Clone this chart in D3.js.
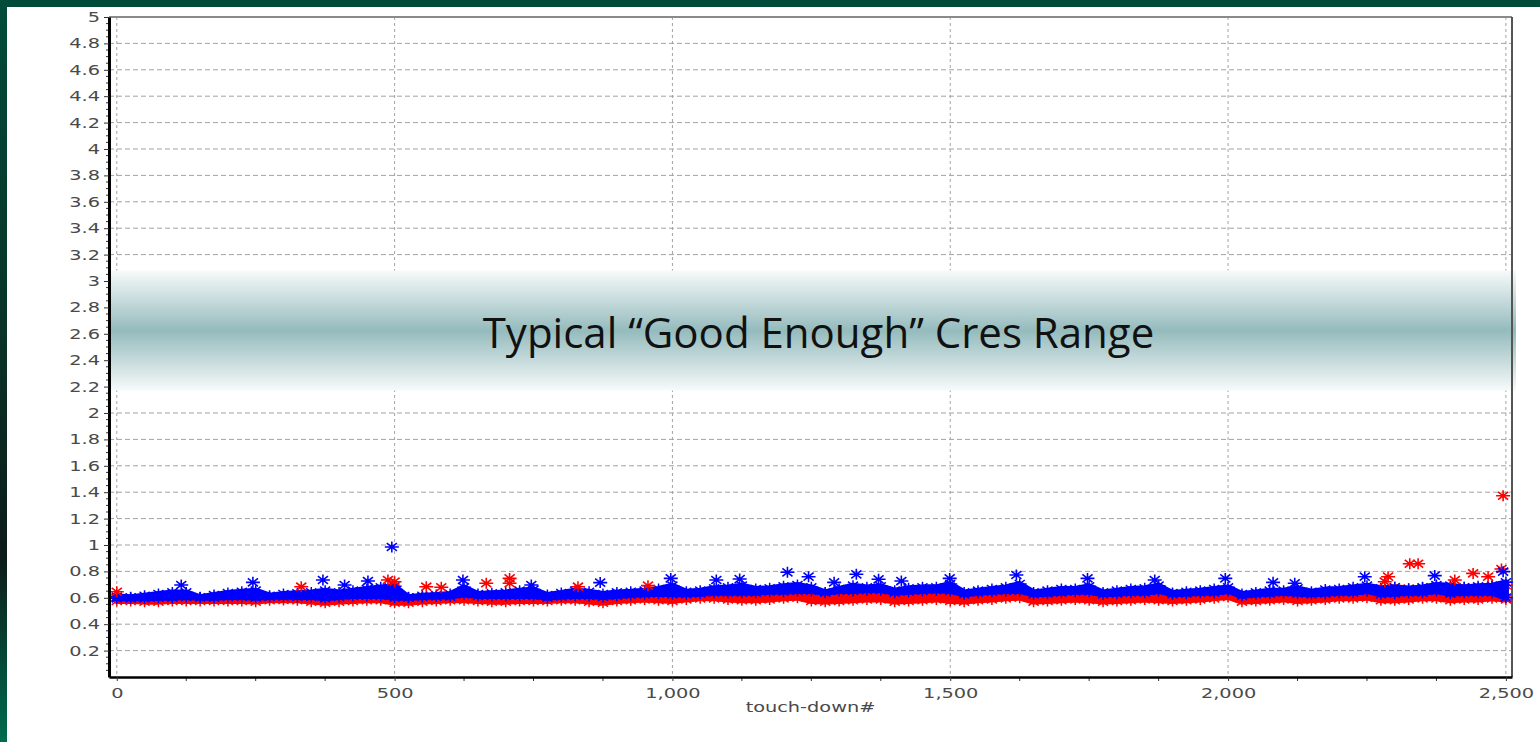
<!DOCTYPE html>
<html>
<head>
<meta charset="utf-8">
<script src="https://d3js.org/d3.v7.min.js"></script>
<style>
  body { margin: 0; overflow: hidden; background: #03402f; }
  .tick-label { font-family: "DejaVu Sans", sans-serif; font-size: 14px; fill: #4a4a4a; }
</style>
</head>
<body>
<div class="chart"></div>
<script>
// Cres per touch-down, two sites (red / blue)

// touch-down sampling step for the envelope arrays below (0, 25, 50 ... 2500)
var tdStep = 25;

// upper / lower edge of the blue cloud
var blueHi = [0.609,0.604,0.616,0.629,0.641,0.641,0.604,0.621,0.636,0.646,0.654,0.616,0.629,0.634,0.641,0.654,0.641,0.654,0.667,0.679,0.687,
  0.604,0.616,0.621,0.629,0.679,0.629,0.634,0.641,0.654,0.662,0.621,0.636,0.654,0.646,0.629,0.641,0.646,0.654,0.667,0.692,
  0.646,0.654,0.672,0.679,0.692,0.667,0.672,0.687,0.697,0.679,0.641,0.667,0.692,0.679,0.687,0.654,0.672,0.679,0.679,0.705,
  0.641,0.654,0.667,0.679,0.705,0.641,0.654,0.667,0.667,0.687,0.641,0.654,0.667,0.672,0.692,0.636,0.646,0.654,0.667,0.679,
  0.629,0.641,0.654,0.654,0.672,0.646,0.662,0.667,0.679,0.692,0.672,0.679,0.667,0.679,0.697,0.692,0.679,0.687,0.692,0.717];
var blueLo = [0.596,0.596,0.596,0.601,0.601,0.606,0.601,0.601,0.606,0.606,0.601,0.606,0.609,0.606,0.606,0.596,0.606,0.614,0.614,0.614,0.601,
  0.601,0.606,0.609,0.609,0.626,0.614,0.614,0.614,0.614,0.614,0.601,0.609,0.614,0.614,0.606,0.614,0.621,0.626,0.631,0.626,
  0.626,0.631,0.639,0.639,0.639,0.639,0.646,0.646,0.652,0.652,0.639,0.652,0.652,0.657,0.657,0.639,0.646,0.652,0.657,0.652,
  0.626,0.639,0.646,0.652,0.652,0.626,0.631,0.639,0.646,0.646,0.626,0.631,0.639,0.639,0.652,0.626,0.631,0.639,0.639,0.652,
  0.614,0.626,0.631,0.639,0.631,0.626,0.631,0.639,0.639,0.652,0.626,0.631,0.639,0.639,0.652,0.631,0.639,0.639,0.639,0.601];

// upper / lower edge of the red cloud
var redHi = [0.600,0.600,0.600,0.605,0.605,0.610,0.600,0.605,0.610,0.610,0.610,0.600,0.605,0.610,0.610,0.610,0.610,0.615,0.620,0.625,0.630,
  0.600,0.605,0.605,0.610,0.620,0.605,0.610,0.615,0.620,0.620,0.600,0.605,0.610,0.610,0.605,0.610,0.615,0.620,0.625,0.625,
  0.620,0.625,0.630,0.630,0.635,0.625,0.635,0.640,0.640,0.640,0.625,0.635,0.640,0.645,0.645,0.630,0.635,0.640,0.645,0.645,
  0.615,0.625,0.635,0.640,0.645,0.615,0.625,0.630,0.635,0.640,0.615,0.625,0.630,0.635,0.640,0.615,0.625,0.630,0.635,0.645,
  0.610,0.620,0.625,0.630,0.630,0.625,0.635,0.645,0.660,0.670,0.665,0.680,0.670,0.675,0.685,0.675,0.680,0.675,0.685,0.695];
var redLo = [0.576,0.576,0.571,0.571,0.576,0.576,0.576,0.576,0.576,0.576,0.571,0.581,0.583,0.581,0.571,0.563,0.571,0.576,0.581,0.581,0.563,
  0.563,0.571,0.576,0.581,0.581,0.576,0.571,0.571,0.576,0.576,0.576,0.581,0.581,0.571,0.563,0.576,0.581,0.588,0.581,0.576,
  0.588,0.596,0.596,0.588,0.581,0.581,0.588,0.596,0.601,0.576,0.571,0.576,0.581,0.588,0.588,0.571,0.576,0.581,0.588,0.576,
  0.571,0.581,0.588,0.596,0.601,0.571,0.576,0.581,0.588,0.581,0.571,0.576,0.581,0.588,0.581,0.576,0.581,0.588,0.596,0.606,
  0.571,0.576,0.581,0.588,0.576,0.581,0.588,0.596,0.596,0.601,0.581,0.581,0.588,0.596,0.596,0.581,0.588,0.588,0.596,0.588];

// isolated points sticking out of the clouds
var blueOutTD  = [116, 245, 371, 410, 452, 495, 623, 746, 870, 997, 1079, 1121, 1207, 1245, 1291, 1331, 1371, 1412, 1499, 1619, 1747, 1868, 1995, 2081, 2120, 2246, 2372, 2495];
var blueOutVal = [0.697, 0.717, 0.735, 0.697, 0.727, 0.985, 0.735, 0.697, 0.715, 0.747, 0.735, 0.742, 0.793, 0.76, 0.717, 0.778, 0.74, 0.727, 0.747, 0.773, 0.747, 0.735, 0.747, 0.717, 0.71, 0.76, 0.768, 0.798];
var redOutTD  = [0, 332, 488, 500, 557, 584, 665, 707, 707, 830, 956, 2282, 2288, 2327, 2342, 2408, 2441, 2468, 2492, 2495];
var redOutVal = [0.646, 0.684, 0.735, 0.722, 0.684, 0.68, 0.71, 0.747, 0.71, 0.684, 0.692, 0.722, 0.76, 0.858, 0.858, 0.735, 0.785, 0.76, 0.818, 1.373];

// axes
var xTickValues = [0, 500, 1000, 1500, 2000, 2500];
var yTickValues = [0.2, 0.4, 0.6, 0.8, 1, 1.2, 1.4, 1.6, 1.8, 2, 2.2, 2.4, 2.6, 2.8, 3, 3.2, 3.4, 3.6, 3.8, 4, 4.2, 4.4, 4.6, 4.8, 5];
var xDomain = [-14, 2511];
var yDomain = [0, 5];

// annotation band
var bandRange = [2.17, 3.08];
var bandText = "Typical \u201cGood Enough\u201d Cres Range";
var xLabel = "touch-down#";

var svgWidth = 1540;
var svgHeight = 742;
var margin = { top: 17, right: 28, bottom: 65, left: 109 };
var width = svgWidth - margin.left - margin.right;
var height = svgHeight - margin.top - margin.bottom;
var stretch = 1.38; // the source screenshot is widened horizontally

var root = d3.select(".chart")
  .append("svg")
  .attr("width", svgWidth)
  .attr("height", svgHeight)
  .style("display", "block");

var defs = root.append("defs");
var bg = defs.append("linearGradient").attr("id", "bgGrad")
  .attr("x1", 0).attr("y1", 0).attr("x2", 0).attr("y2", 1);
bg.append("stop").attr("offset", "0%").attr("stop-color", "#024b3b");
bg.append("stop").attr("offset", "45%").attr("stop-color", "#083326");
bg.append("stop").attr("offset", "75%").attr("stop-color", "#0c1c18");
bg.append("stop").attr("offset", "100%").attr("stop-color", "#006b50");

var bandGrad = defs.append("linearGradient").attr("id", "bandGrad")
  .attr("x1", 0).attr("y1", 0).attr("x2", 0).attr("y2", 1);
bandGrad.append("stop").attr("offset", "0%").attr("stop-color", "#f7fafa");
bandGrad.append("stop").attr("offset", "50%").attr("stop-color", "#95bbbd");
bandGrad.append("stop").attr("offset", "100%").attr("stop-color", "#f7fafa");

// slide background and white picture
root.append("rect").attr("width", svgWidth).attr("height", svgHeight).attr("fill", "url(#bgGrad)");
root.append("rect").attr("x", 7).attr("y", 7)
  .attr("width", svgWidth - 7).attr("height", svgHeight - 7).attr("fill", "#ffffff");

var chart = root.append("g")
  .attr("transform", "translate(" + margin.left + "," + margin.top + ")");

var xScale = d3.scaleLinear().domain(xDomain).range([0, width]);
var yScale = d3.scaleLinear().domain(yDomain).range([height, 0]);

// grid
chart.append("g").selectAll("line")
  .data(yTickValues.filter(function(v) { return v < 5; }))
  .enter().append("line")
  .attr("x1", 0).attr("x2", width)
  .attr("y1", function(d) { return yScale(d); })
  .attr("y2", function(d) { return yScale(d); })
  .attr("stroke", "#a3a3a3")
  .attr("stroke-dasharray", "5,3");

chart.append("g").selectAll("line")
  .data(xTickValues)
  .enter().append("line")
  .attr("x1", function(d) { return xScale(d); })
  .attr("x2", function(d) { return xScale(d); })
  .attr("y1", 0).attr("y2", height)
  .attr("stroke", "#a3a3a3")
  .attr("stroke-dasharray", "3,3");

// "good enough" band
chart.append("rect")
  .attr("x", 1)
  .attr("width", width + 3)
  .attr("y", yScale(bandRange[1]))
  .attr("height", yScale(bandRange[0]) - yScale(bandRange[1]))
  .attr("fill", "url(#bandGrad)");

chart.append("text")
  .attr("x", width / 2 + 8)
  .attr("y", yScale((bandRange[0] + bandRange[1]) / 2) + 17)
  .attr("text-anchor", "middle")
  .style("font-family", "'Open Sans', sans-serif")
  .style("font-size", "42px")
  .style("fill", "#111")
  .text(bandText);

// frame (top / right)
chart.append("line").attr("x1", 0).attr("x2", width).attr("y1", 0).attr("y2", 0)
  .attr("stroke", "#8a8a8a").attr("stroke-width", 2);
chart.append("line").attr("x1", width).attr("x2", width).attr("y1", 0).attr("y2", height)
  .attr("stroke", "#555").attr("stroke-width", 2);

// data
function toPoints(values) {
  return values.map(function(v, i) { return { td: i * tdStep, v: v }; });
}

function asterisk(cx, cy) {
  var rx = 7, ry = 5.5, dx = rx * 0.72, dy = ry * 0.72;
  return "M" + (cx - rx) + "," + cy + "H" + (cx + rx) +
    "M" + cx + "," + (cy - ry) + "V" + (cy + ry) +
    "M" + (cx - dx) + "," + (cy - dy) + "L" + (cx + dx) + "," + (cy + dy) +
    "M" + (cx - dx) + "," + (cy + dy) + "L" + (cx + dx) + "," + (cy - dy);
}

function drawCloud(hi, lo, color) {
  var rows = hi.map(function(v, i) { return { td: i * tdStep, hi: v, lo: lo[i] }; });
  var area = d3.area()
    .x(function(d) { return xScale(d.td); })
    .y0(function(d) { return yScale(d.lo); })
    .y1(function(d) { return yScale(d.hi); });
  chart.append("path")
    .datum(rows)
    .attr("d", area)
    .attr("fill", color)
    .attr("stroke", color)
    .attr("stroke-width", 6)
    .attr("stroke-linejoin", "round");

  var pts = toPoints(hi).concat(toPoints(lo));
  chart.append("g").selectAll("path")
    .data(pts)
    .enter().append("path")
    .attr("d", function(d) { return asterisk(xScale(d.td), yScale(d.v)); })
    .attr("stroke", color)
    .attr("stroke-width", 1.5)
    .attr("fill", "none");
}

function drawOutliers(tds, vals, color) {
  chart.append("g").selectAll("path")
    .data(tds)
    .enter().append("path")
    .attr("d", function(d, i) { return asterisk(xScale(d), yScale(vals[i])); })
    .attr("stroke", color)
    .attr("stroke-width", 1.6)
    .attr("fill", "none");
}

drawCloud(redHi, redLo, "#ff0000");
drawCloud(blueHi, blueLo, "#0000ff");
drawOutliers(redOutTD, redOutVal, "#ff0000");
drawOutliers(blueOutTD, blueOutVal, "#0000ff");

// axes
var leftAxis = d3.axisLeft(yScale)
  .tickValues(yTickValues)
  .tickSize(5).tickSizeOuter(0).tickPadding(4)
  .tickFormat(function(d) { return String(+d.toFixed(1)); });
var bottomAxis = d3.axisBottom(xScale)
  .tickValues(xTickValues)
  .tickSize(4).tickSizeOuter(0).tickPadding(7)
  .tickFormat(d3.format(","));

// minor ticks
var yMinor = d3.range(1, 100).map(function(i) { return i * 0.05; })
  .filter(function(v) { return Math.abs(v / 0.2 - Math.round(v / 0.2)) > 0.01; });
chart.append("g").selectAll("line").data(yMinor).enter().append("line")
  .attr("x1", -3).attr("x2", 0)
  .attr("y1", function(d) { return yScale(d); })
  .attr("y2", function(d) { return yScale(d); })
  .attr("stroke", "#333");

var xMinor = d3.range(125, 2500, 125).filter(function(v) { return v % 500 !== 0; });
chart.append("g").selectAll("line").data(xMinor).enter().append("line")
  .attr("x1", function(d) { return xScale(d); })
  .attr("x2", function(d) { return xScale(d); })
  .attr("y1", height).attr("y2", height + 4)
  .attr("stroke", "#333");

var yAxisG = chart.append("g").call(leftAxis);
yAxisG.select(".domain").attr("stroke", "#000").attr("stroke-width", 3);
yAxisG.selectAll(".tick line").attr("stroke", "#333");
yAxisG.selectAll("text")
  .attr("class", "tick-label")
  .attr("x", -9 / stretch)
  .attr("transform", "scale(" + stretch + ",1)");

var xAxisG = chart.append("g")
  .attr("transform", "translate(0," + height + ")")
  .call(bottomAxis);
xAxisG.select(".domain").attr("stroke", "#000").attr("stroke-width", 2.5);
xAxisG.selectAll(".tick line").attr("stroke", "#333");
xAxisG.selectAll("text")
  .attr("class", "tick-label")
  .attr("transform", "scale(" + stretch + ",1)");

chart.append("text")
  .attr("class", "tick-label")
  .attr("text-anchor", "middle")
  .attr("transform", "translate(" + (width / 2) + "," + (height + 35) + ") scale(" + stretch + ",1)")
  .text(xLabel);
</script>
</body>
</html>
